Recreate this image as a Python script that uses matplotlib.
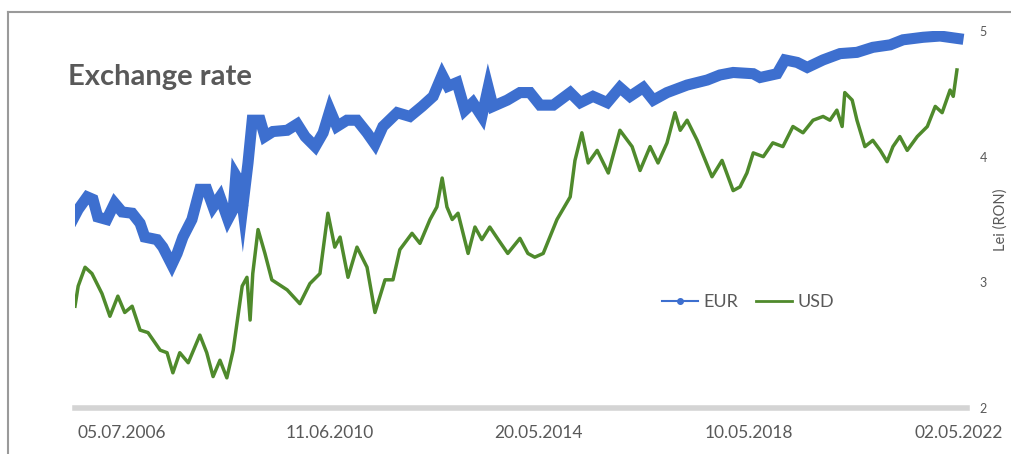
import matplotlib.pyplot as plt
from matplotlib.lines import Line2D

# x values in decimal years
eur_x = [2005.58, 2005.68, 2005.85, 2005.96, 2006.05, 2006.22, 2006.37, 2006.51, 2006.70, 2006.85,
         2006.94, 2007.17, 2007.28, 2007.45, 2007.55, 2007.66, 2007.83, 2007.98, 2008.11, 2008.23,
         2008.36, 2008.51, 2008.61, 2008.66, 2008.73, 2008.79, 2008.89, 2008.97, 2009.12, 2009.21, 2009.36,
         2009.63, 2009.82, 2009.97, 2010.16, 2010.31, 2010.44, 2010.57, 2010.76, 2010.95, 2011.14,
         2011.29, 2011.44, 2011.71, 2011.95, 2012.18, 2012.39, 2012.56, 2012.67, 2012.84, 2012.99,
         2013.14, 2013.31, 2013.43, 2013.52, 2013.79, 2014.03, 2014.22, 2014.41, 2014.66, 2014.98,
         2015.17, 2015.41, 2015.68, 2015.92, 2016.11, 2016.36, 2016.55, 2016.81, 2017.19, 2017.57,
         2017.81, 2018.06, 2018.44, 2018.57, 2018.89, 2019.04, 2019.27, 2019.46, 2019.76, 2020.08,
         2020.40, 2020.70, 2021.03, 2021.27, 2021.65, 2021.97, 2022.31]
eur = [3.50, 3.58, 3.68, 3.66, 3.52, 3.50, 3.63, 3.56, 3.55, 3.47,
       3.36, 3.34, 3.28, 3.14, 3.23, 3.36, 3.50, 3.74, 3.74, 3.60,
       3.68, 3.50, 3.58, 3.85, 3.80, 3.60, 3.95, 4.29, 4.29, 4.16, 4.20,
       4.21, 4.26, 4.16, 4.08, 4.19, 4.37, 4.24, 4.29, 4.29, 4.19,
       4.10, 4.24, 4.35, 4.32, 4.40, 4.48, 4.65, 4.56, 4.59, 4.37,
       4.43, 4.32, 4.55, 4.40, 4.45, 4.51, 4.51, 4.41, 4.41, 4.51,
       4.43, 4.48, 4.43, 4.55, 4.48, 4.55, 4.45, 4.51, 4.57, 4.61,
       4.65, 4.67, 4.66, 4.63, 4.66, 4.77, 4.75, 4.71, 4.77, 4.82,
       4.83, 4.87, 4.89, 4.93, 4.95, 4.96, 4.94]

usd_x = [2005.62, 2005.68, 2005.81, 2005.94, 2006.13, 2006.28, 2006.43, 2006.56, 2006.70, 2006.85,
         2007.00, 2007.23, 2007.36, 2007.47, 2007.60, 2007.76, 2007.98, 2008.11, 2008.23, 2008.36,
         2008.49, 2008.61, 2008.78, 2008.87, 2008.93, 2008.98, 2009.08, 2009.21, 2009.34, 2009.63,
         2009.87, 2010.06, 2010.25, 2010.40, 2010.53, 2010.63, 2010.78, 2010.95, 2011.14, 2011.29,
         2011.48, 2011.63, 2011.76, 2011.99, 2012.14, 2012.33, 2012.46, 2012.56, 2012.65, 2012.75,
         2012.86, 2013.05, 2013.18, 2013.31, 2013.46, 2013.62, 2013.80, 2014.03, 2014.18, 2014.31,
         2014.47, 2014.73, 2014.98, 2015.07, 2015.20, 2015.32, 2015.49, 2015.70, 2015.92, 2016.15,
         2016.30, 2016.49, 2016.64, 2016.81, 2016.96, 2017.06, 2017.19, 2017.38, 2017.66, 2017.85,
         2018.06, 2018.19, 2018.32, 2018.44, 2018.63, 2018.81, 2019.00, 2019.19, 2019.38, 2019.57,
         2019.76, 2019.89, 2020.02, 2020.12, 2020.17, 2020.31, 2020.40, 2020.55, 2020.70, 2020.84,
         2020.97, 2021.08, 2021.21, 2021.35, 2021.54, 2021.73, 2021.88, 2022.01, 2022.16, 2022.22,
         2022.29]
usd = [2.81, 2.97, 3.12, 3.07, 2.91, 2.73, 2.89, 2.76, 2.81, 2.62,
       2.60, 2.46, 2.44, 2.28, 2.44, 2.36, 2.58, 2.44, 2.25, 2.38,
       2.24, 2.46, 2.97, 3.04, 2.70, 3.07, 3.42, 3.23, 3.02, 2.94,
       2.83, 2.99, 3.07, 3.55, 3.28, 3.36, 3.04, 3.28, 3.12, 2.76,
       3.02, 3.02, 3.26, 3.39, 3.31, 3.50, 3.60, 3.83, 3.60, 3.50,
       3.55, 3.23, 3.44, 3.34, 3.44, 3.34, 3.23, 3.35, 3.23, 3.20,
       3.23, 3.50, 3.68, 3.97, 4.19, 3.95, 4.05, 3.87, 4.21, 4.08,
       3.89, 4.08, 3.95, 4.11, 4.35, 4.21, 4.29, 4.13, 3.84, 3.97,
       3.73, 3.76, 3.87, 4.03, 4.00, 4.11, 4.08, 4.24, 4.19, 4.29,
       4.32, 4.29, 4.37, 4.24, 4.51, 4.45, 4.29, 4.08, 4.13, 4.05,
       3.96, 4.08, 4.16, 4.05, 4.16, 4.24, 4.40, 4.35, 4.53, 4.48,
       4.69]

tick_pos = [2006.51, 2010.44, 2014.38, 2018.36, 2022.33]
tick_labels = ['05.07.2006', '11.06.2010', '20.05.2014', '10.05.2018', '02.05.2022']

blue = '#3d6fcf'
green = '#4f8a2c'
grey = '#595959'

plt.rcParams['font.family'] = ['Lato', 'DejaVu Sans']

fig = plt.figure(figsize=(10.11, 4.54), dpi=100)
ax = fig.add_axes([75 / 1011, 1 - 408 / 454, (967 - 75) / 1011, (408 - 31) / 454])

ax.plot(eur_x, eur, color=blue, lw=8, solid_joinstyle='miter', zorder=3)
ax.plot(usd_x, usd, color=green, lw=2.5, zorder=2)

ax.set_ylim(2, 5)
ax.set_xlim(2005.62, 2022.48)
ax.set_yticks([2, 3, 4, 5])
ax.yaxis.tick_right()
ax.yaxis.set_label_position('right')
ax.set_ylabel('Lei (RON)', color=grey, fontsize=10.5, labelpad=5)
ax.set_xticks(tick_pos)
ax.set_xticklabels(tick_labels)
ax.tick_params(axis='both', length=0, colors=grey)
ax.tick_params(axis='y', labelsize=9, pad=9)
ax.tick_params(axis='x', labelsize=12.5, pad=12)

for s in ['top', 'left', 'right']:
    ax.spines[s].set_visible(False)
ax.spines['bottom'].set_color('#d4d4d4')
ax.spines['bottom'].set_linewidth(4)

fig.text(68 / 1011, 1 - 77 / 454, 'Exchange rate', fontsize=21, color=grey,
         fontweight='bold', va='center', ha='left')

handles = [Line2D([], [], color=blue, lw=1.5, marker='o', markersize=4),
           Line2D([], [], color=green, lw=2)]
ax.legend(handles, ['EUR', 'USD'], loc='center', bbox_to_anchor=((748 - 75) / 892, (408 - 302) / 377),
          ncol=2, frameon=False, fontsize=13, labelcolor=grey, handlelength=2, handletextpad=0.3,
          columnspacing=1.0)

# outer chart frame (only left and top edges visible)
fig.add_artist(Line2D([8 / 1011, 8 / 1011], [0, 1 - 12 / 454], color='#9a9a9a', lw=1.5))
fig.add_artist(Line2D([8 / 1011, 1], [1 - 12 / 454, 1 - 12 / 454], color='#9a9a9a', lw=1.5))

fig.savefig('out.png', dpi=100)
